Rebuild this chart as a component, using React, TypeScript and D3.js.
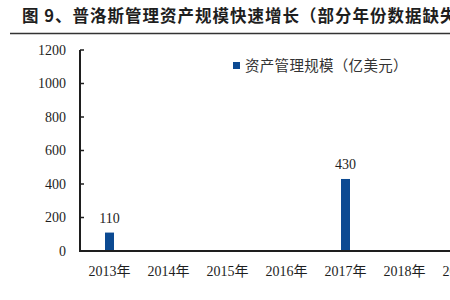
import React from "react";
import * as d3 from "d3";

const years = ["2013年", "2014年", "2015年", "2016年", "2017年", "2018年", "2019年"];
const aum: (number | null)[] = [110, null, null, null, 430, null, null];
const yTicks = [0, 200, 400, 600, 800, 1000, 1200];
const title = "图 9、普洛斯管理资产规模快速增长（部分年份数据缺失）";
const legendLabel = "资产管理规模（亿美元）";

const W = 450;
const H = 300;
const left = 80;
const step = 59;
const top = 50;
const base = 251;
const barW = 9;
const blue = "#0C4A92";
const ink = "#1e1e1e";
const latin = "'Liberation Serif', 'Noto Sans CJK SC', serif";
const cjk = "'Noto Sans CJK SC', sans-serif";

export default function App() {
  const x = d3.scaleBand<string>().domain(years).range([left, left + step * years.length]).padding(0);
  const y = d3.scaleLinear().domain([0, 1200]).range([base, top]);

  return (
    <svg width={W} height={H} style={{ position: "absolute", left: 0, top: 0, background: "#fff" }}>
      <text x={22} y={22} fontFamily={cjk} fontWeight={700} fontSize={16.5} fill={ink} letterSpacing={1.0}>
        {title}
      </text>
      <line x1={10} x2={W} y1={33.5} y2={33.5} stroke="#333" strokeWidth={1.5} />

      {/* legend */}
      <rect x={233} y={62} width={7} height={7} fill={blue} />
      <text x={245} y={70.5} fontFamily={cjk} fontSize={14.5} fill="#333" letterSpacing={0.3}>
        {legendLabel}
      </text>

      {/* y axis */}
      <line x1={left} x2={left} y1={y(1200)} y2={base} stroke={ink} strokeWidth={2} />
      {yTicks.map((t) => (
        <g key={t}>
          <line x1={left} x2={left + 4} y1={y(t)} y2={y(t)} stroke={ink} strokeWidth={1.5} />
          <text x={66} y={y(t)} dy="0.35em" textAnchor="end" fontFamily={latin} fontSize={14} fill={ink}>
            {t}
          </text>
        </g>
      ))}

      {/* bars */}
      {years.map((yr, i) => {
        const v = aum[i];
        if (v == null) return null;
        const cx = (x(yr) as number) + x.bandwidth() / 2;
        return (
          <g key={yr}>
            <rect x={cx - barW / 2} y={y(v)} width={barW} height={base - y(v)} fill={blue} />
            <text x={cx} y={y(v) - 10} textAnchor="middle" fontFamily={latin} fontSize={14} fill={ink}>
              {v}
            </text>
          </g>
        );
      })}

      {/* x axis */}
      <line x1={left - 1} x2={W} y1={base} y2={base} stroke={ink} strokeWidth={2} />
      {years.map((yr) => (
        <text
          key={yr}
          x={(x(yr) as number) + x.bandwidth() / 2}
          y={276}
          textAnchor="middle"
          fontFamily={latin}
          fontSize={14}
          fill={ink}
        >
          {yr}
        </text>
      ))}
    </svg>
  );
}
